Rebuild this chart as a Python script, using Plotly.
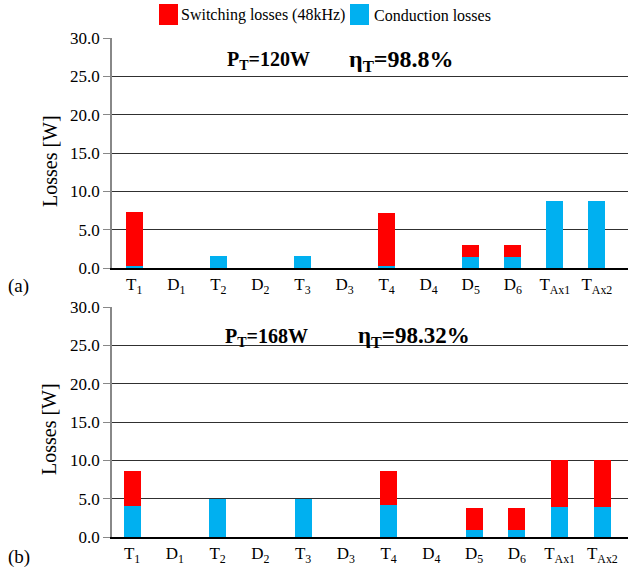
import plotly.graph_objects as go

categories = ["T<sub>1</sub>", "D<sub>1</sub>", "T<sub>2</sub>", "D<sub>2</sub>", "T<sub>3</sub>", "D<sub>3</sub>",
              "T<sub>4</sub>", "D<sub>4</sub>", "D<sub>5</sub>", "D<sub>6</sub>", "T<sub>Ax1</sub>", "T<sub>Ax2</sub>"]
cond_120 = [0.3, 0, 1.6, 0, 1.6, 0, 0.3, 0, 1.48, 1.48, 8.78, 8.78]
sw_120 = [7.04, 0, 0, 0, 0, 0, 6.9, 0, 1.56, 1.56, 0, 0]
cond_168 = [4.0, 0, 5.0, 0, 5.0, 0, 4.13, 0, 0.91, 0.91, 3.87, 3.87]
sw_168 = [4.57, 0, 0, 0, 0, 0, 4.44, 0, 2.83, 2.83, 6.13, 6.13]
y_ticks = [0, 5, 10, 15, 20, 25, 30]

RED = "#FF0000"
BLUE = "#00B0F0"
FONT = "Liberation Serif"
W, H = 628, 571

fig = go.Figure()
fig.add_bar(x=categories, y=cond_120, marker_color=BLUE, marker_line_width=0, width=0.4,
            xaxis="x", yaxis="y", showlegend=False, name="Conduction losses")
fig.add_bar(x=categories, y=sw_120, marker_color=RED, marker_line_width=0, width=0.4,
            xaxis="x", yaxis="y", showlegend=False, name="Switching losses (48kHz)")
fig.add_bar(x=categories, y=cond_168, marker_color=BLUE, marker_line_width=0, width=0.4,
            xaxis="x2", yaxis="y2", showlegend=False, name="Conduction losses")
fig.add_bar(x=categories, y=sw_168, marker_color=RED, marker_line_width=0, width=0.4,
            xaxis="x2", yaxis="y2", showlegend=False, name="Switching losses (48kHz)")

def px_x(v):
    return v / W

def px_y(v):
    return 1 - v / H

yax = dict(range=[0, 30], tickvals=y_ticks, tickformat=".1f", showgrid=True,
           gridcolor="#303030", gridwidth=1.2, zeroline=False, showline=True,
           linecolor="#888888", linewidth=1.5, ticks="outside", ticklen=7,
           tickcolor="#888888", automargin=False,
           tickfont=dict(family=FONT, size=17, color="black"))
xax = dict(type="category", showline=True, linecolor="black", linewidth=1.5,
           ticks="", automargin=False,
           tickfont=dict(family=FONT, size=17, color="black"), showgrid=False)

fig.update_layout(
    width=W, height=H, margin=dict(l=0, r=0, t=0, b=0, autoexpand=False),
    paper_bgcolor="white", plot_bgcolor="white", barmode="stack",
    xaxis=dict(xax, domain=[px_x(112), 1], anchor="y", range=[-0.53, 11.74]),
    yaxis=dict(yax, domain=[px_y(268), px_y(38)], anchor="x"),
    xaxis2=dict(xax, domain=[px_x(112), 1], anchor="y2", range=[-0.47, 11.6]),
    yaxis2=dict(yax, domain=[px_y(537), px_y(307)], anchor="x2"),
    font=dict(family=FONT, color="black"),
)

ann = []
def add_text(text, x, y, size, **kw):
    ann.append(dict(text=text, x=px_x(x), y=px_y(y), xref="paper", yref="paper",
                    showarrow=False, font=dict(family=FONT, size=size, color="black"), **kw))

add_text("<b>P<sub>T</sub>=120W</b>", 225, 61, 20, xanchor="left", yanchor="middle")
add_text("<b>η<sub>T</sub>=98.8%</b>", 347, 61, 24, xanchor="left", yanchor="middle")
add_text("<b>P<sub>T</sub>=168W</b>", 223, 337, 20, xanchor="left", yanchor="middle")
add_text("<b>η<sub>T</sub>=98.32%</b>", 356, 337, 23, xanchor="left", yanchor="middle")
add_text("Losses [W]", 50, 161, 20, textangle=-90, xanchor="center", yanchor="middle")
add_text("Losses [W]", 49, 429, 20, textangle=-90, xanchor="center", yanchor="middle")
add_text("(a)", 18, 286, 19, xanchor="center", yanchor="middle")
add_text("(b)", 19, 557, 19, xanchor="center", yanchor="middle")
add_text("Switching losses (48kHz)", 179, 15, 16, xanchor="left", yanchor="middle")
add_text("Conduction losses", 372, 15, 16, xanchor="left", yanchor="middle")
fig.update_layout(annotations=ann)

shapes = [
    dict(type="rect", xref="paper", yref="paper", x0=px_x(159), x1=px_x(178), y0=px_y(25), y1=px_y(4),
         fillcolor=RED, line_width=0),
    dict(type="rect", xref="paper", yref="paper", x0=px_x(350), x1=px_x(369), y0=px_y(25), y1=px_y(4),
         fillcolor=BLUE, line_width=0),
]
fig.update_layout(shapes=shapes)

fig.write_html("out.html", config={"displayModeBar": False},
               post_script="document.body.style.margin='0px';document.body.style.overflow='hidden';")
